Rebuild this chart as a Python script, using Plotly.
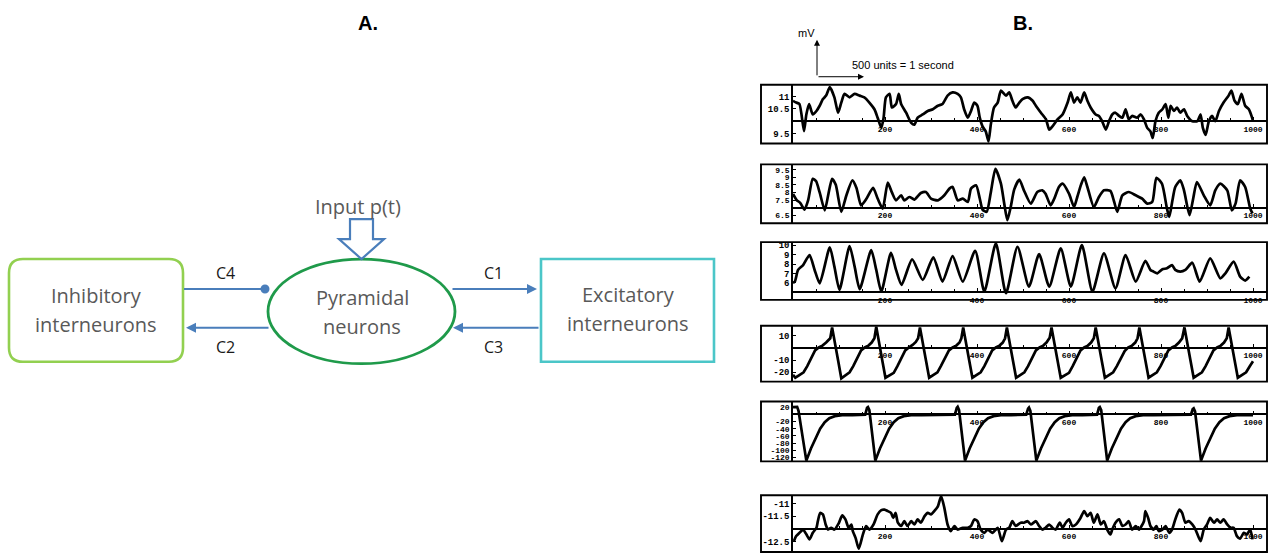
import plotly.graph_objects as go

W, H = 1269, 554

# ---------------- Panel B: simulated potentials (time in samples, mV) ----------------
t1 = [0, 7, 14, 24, 29, 35, 43, 51, 58, 65, 72, 80, 90, 98, 105, 112, 123, 134, 145, 155,
      166, 177, 184, 192, 197, 202, 210, 215, 224, 230, 235, 246, 257, 264, 271, 282, 293, 304, 315, 325,
      336, 347, 358, 365, 372, 380, 387, 394, 401, 406, 412, 419, 425, 430, 437, 445, 452, 463, 470, 477,
      484, 492, 499, 510, 521, 528, 539, 550, 557, 564, 575, 586, 597, 604, 611, 618, 625, 633, 640, 647,
      658, 665, 672, 680, 687, 694, 701, 709, 716, 723, 730, 737, 748, 756, 763, 770, 777, 782, 788, 795,
      803, 810, 816, 821, 828, 835, 842, 850, 857, 868, 879, 886, 891, 897, 904, 911, 918, 926, 936, 947,
      953, 960, 967, 975, 983, 991, 998, 1000]
v1 = [10.82, 10.75, 10.69, 9.6, 10.27, 10.69, 10.27, 10.41, 10.62, 10.89,
      11.03, 11.37, 10.96, 10.34, 10.75, 11.10, 10.96, 11.10, 11.03, 10.96,
      10.75, 10.48, 10.14, 9.73, 10.14, 10.96, 11.10, 10.55, 10.69, 11.10,
      10.69, 10.34, 9.93, 9.86, 10.14, 10.27, 10.41, 10.48, 10.62, 10.69,
      11.03, 11.16, 11.10, 10.96, 10.48, 10.14, 10.41, 10.75, 10.62, 10.14,
      9.79, 9.59, 9.18, 9.86, 10.55, 10.75, 11.23, 11.03, 11.16, 10.82,
      10.55, 10.75, 10.89, 10.96, 10.82, 10.62, 10.34, 10.07, 9.66, 9.79,
      10.07, 10.27, 10.75, 11.16, 10.75, 10.96, 10.75, 11.16, 10.82, 10.55,
      10.27, 10.21, 10.0, 9.66, 10.0, 10.27, 10.34, 10.21, 10.14, 10.48,
      10.07, 10.21, 10.14, 10.27, 10.07, 9.73, 9.59, 9.32, 10.0, 10.34,
      10.48, 10.69, 10.14, 10.62, 10.41, 10.55, 10.34, 10.48, 10.21, 10.0,
      10.0, 10.27, 9.73, 9.45, 10.0, 10.21, 10.0, 10.41, 10.75, 11.03,
      11.23, 10.82, 10.69, 11.10, 10.62, 10.48, 10.14, 10.0]

t2 = [0, 8, 16, 25, 33, 43, 50, 58, 69, 77, 85, 93, 105, 116, 129, 138, 148, 160, 174, 184,
      195, 206, 215, 224, 235, 242, 253, 264, 278, 289, 300, 315, 329, 340, 347, 358, 369, 380, 387, 398,
      406, 412, 421, 430, 440, 452, 459, 466, 473, 481, 492, 502, 517, 531, 542, 549, 560, 568, 578, 586,
      600, 611, 618, 626, 633, 640, 654, 665, 676, 690, 698, 705, 716, 730, 745, 759, 770, 781, 790, 802,
      813, 818, 825, 831, 842, 850, 862, 870, 878, 893, 907, 918, 929, 944, 954, 962, 972, 983, 994, 999]
v2 = [7.9, 7.5, 7.3, 6.87, 7.5, 8.9, 8.75, 8.0, 6.82, 7.9,
      8.9, 8.5, 6.72, 7.8, 8.8, 8.3, 7.15, 7.6, 8.3, 7.6,
      6.93, 8.65, 8.0, 7.48, 7.81, 7.48, 7.70, 7.53, 7.96, 8.03,
      7.59, 7.48, 7.81, 8.25, 8.36, 7.48, 7.59, 7.37, 8.25, 8.47,
      7.6, 6.87, 6.72, 8.0, 9.56, 8.58, 7.3, 6.17, 7.0, 8.2,
      8.85, 8.14, 7.26, 8.03, 8.14, 7.92, 7.15, 7.59, 8.36, 8.58,
      7.92, 7.04, 7.70, 8.5, 9.0, 8.36, 7.04, 7.70, 8.14, 8.1,
      7.4, 6.72, 7.81, 8.03, 7.81, 7.59, 7.26, 7.37, 8.97, 8.58,
      6.93, 6.39, 7.5, 8.36, 8.80, 8.14, 6.50, 7.6, 8.69, 7.81,
      7.15, 8.14, 8.58, 8.14, 6.82, 7.26, 8.80, 8.36, 6.93, 6.61]

t3 = [0, 4, 11, 22, 36, 47, 58, 80, 90, 101, 123, 134, 145, 170, 181, 192, 213, 224, 236, 259,
      282, 305, 325, 347, 369, 396, 416, 441, 463, 488, 513, 535, 557, 582, 604, 628, 651, 676, 701, 723,
      745, 766, 777, 784, 792, 803, 813, 824, 831, 842, 853, 868, 884, 907, 929, 940, 958, 972, 983, 992]
v3 = [6.02, 6.13, 7.37, 7.89, 8.95, 7.37, 5.95, 9.77, 7.72, 5.25,
      9.91, 7.72, 5.32, 9.48, 7.37, 5.07, 9.20, 7.37, 5.78, 8.49,
      6.31, 8.71, 6.13, 8.85, 6.13, 9.41, 5.07, 10.19, 4.89, 9.84,
      5.60, 9.06, 5.60, 9.66, 5.60, 10.01, 5.07, 9.13, 5.42, 8.95,
      6.13, 8.35, 7.37, 7.19, 7.01, 7.44, 7.54, 7.89, 7.37, 7.19,
      7.37, 8.14, 6.13, 8.60, 6.48, 7.01, 8.25, 6.66, 6.24, 6.66]

t4 = [0, 5, 13, 23, 31, 40, 48, 56, 64, 72, 81, 85, 92, 98, 105,
      113, 123, 131, 140, 148, 156, 164, 171, 177, 181, 188, 194, 201,
      209, 219, 227, 236, 244, 252, 260, 267, 272, 276, 283, 289, 296,
      304, 314, 322, 331, 339, 347, 355, 362, 366, 370, 377, 383, 390,
      398, 408, 416, 425, 433, 441, 449, 456, 461, 465, 472, 478, 485,
      493, 503, 511, 520, 528, 536, 544, 551, 558, 562, 569, 575, 582,
      590, 600, 608, 617, 625, 633, 641, 648, 654, 658, 665, 671, 678,
      686, 696, 704, 713, 721, 729, 737, 744, 749, 753, 760, 766, 773,
      781, 791, 799, 808, 816, 824, 832, 839, 846, 851, 858, 864, 871,
      879, 889, 897, 906, 914, 922, 930, 937, 943, 947, 954, 960, 967,
      975, 985, 993, 1000]
v4 = [-22, -24.5, -22.5, -20, -15, -8, -2, 0.5, 2, 4.5, 8, 17, 4, -10, -25,
      -22.5, -20, -15, -8, -2, 0.5, 2, 4.5, 8, 17.5, 4, -10, -24.5,
      -22.5, -20.5, -15, -8, -2, 0.5, 2.5, 5, 8, 17, 4, -10, -24.5,
      -22.5, -20, -14.5, -7.5, -2, 0.5, 2, 4.5, 8, 17, 4, -10, -24.5,
      -22.5, -20, -15, -8, -2, 0.5, 2, 4.5, 8, 17, 4, -10, -24.5,
      -22.5, -20, -15, -8, -2, 0.5, 2, 4.5, 8.5, 17, 4, -10, -24.5,
      -22.5, -20.5, -15, -8, -2, 0.5, 2, 4.5, 8, 17, 4, -10, -24.5,
      -22.5, -20, -15, -8, -2.5, 0.5, 2, 4.5, 8, 17, 4, -10, -24.5,
      -22.5, -20, -15, -8, -2, 0.5, 2, 4.5, 8, 17, 4, -10, -24.5,
      -22.5, -20, -15, -8, -2, 0.5, 2, 4.5, 8, 17, 4, -10, -24.5,
      -22.5, -20, -15, -11]

t5 = [0, 9, 12, 29, 39, 49, 59, 69, 79, 91, 107, 129, 155, 157, 161, 163, 166, 179, 189, 199,
      209, 219, 229, 241, 257, 279, 330, 352, 356, 358, 361, 374, 384, 394, 404, 414, 424, 436, 452, 474,
      500, 507, 511, 513, 516, 529, 539, 549, 559, 569, 579, 591, 607, 629, 655, 661, 665, 667, 670, 683,
      693, 703, 713, 723, 733, 745, 761, 783, 860, 865, 869, 871, 874, 887, 897, 907, 917, 927, 937, 949,
      965, 987, 1000]
v5 = [20, 21, 10, -129, -95, -66, -40, -22, -11, -5,
      -2.5, -2, -1.5, -1, 18, 20, 12, -129, -95, -66,
      -40, -22, -11, -5, -2.5, -2, -1.5, -1, 18, 21,
      12, -129, -95, -66, -40, -22, -11, -5, -2.5, -2,
      -1.5, -1, 16, 19, 10, -129, -95, -66, -40, -22,
      -11, -5, -2.5, -2, -1.5, -1, 18, 20, 12, -129,
      -95, -66, -40, -22, -11, -5, -2.5, -2, -1.5, -1,
      15, 17, 8, -129, -95, -66, -40, -22, -11, -5,
      -2.5, -2, -2]

t6 = [2, 7, 14, 22, 29, 36, 43, 51, 54, 59, 65, 71, 76, 83, 90, 100, 107, 114, 121, 127,
      130, 136, 143, 152, 159, 166, 175, 184, 192, 199, 206, 213, 218, 223, 228, 235, 242, 249, 257, 264,
      271, 278, 286, 293, 300, 307, 315, 322, 329, 336, 343, 351, 358, 369, 380, 387, 394, 401, 408, 416,
      423, 434, 445, 454, 463, 470, 477, 484, 495, 502, 510, 517, 528, 535, 542, 549, 557, 564, 571, 580,
      586, 593, 600, 607, 615, 625, 633, 640, 647, 654, 662, 669, 676, 683, 690, 694, 701, 709, 716, 723,
      730, 737, 745, 752, 763, 766, 772, 777, 784, 790, 795, 803, 810, 818, 824, 831, 840, 846, 853, 860,
      868, 875, 886, 893, 900, 907, 915, 922, 929, 936, 944, 951, 958, 965, 972, 980, 987, 994, 999]
v6 = [-12.49, -12.29, -12.16, -12.03, -12.22, -12.42, -12.16, -11.96, -11.70, -11.37,
      -11.43, -11.83, -12.03, -11.96, -12.03, -11.76, -11.47, -11.63, -11.96, -11.83,
      -12.09, -12.36, -12.79, -12.22, -11.89, -12.03, -11.83, -11.43, -11.26, -11.24,
      -11.30, -11.37, -11.57, -11.37, -11.76, -11.89, -11.70, -11.89, -11.70, -11.83,
      -11.63, -11.76, -11.50, -11.37, -11.43, -11.30, -11.11, -10.71, -11.17, -11.83,
      -12.09, -11.89, -12.03, -11.96, -11.96, -11.89, -11.63, -11.70, -12.03, -12.16,
      -12.03, -12.16, -11.96, -12.49, -12.03, -11.96, -11.70, -11.89, -11.76, -11.76,
      -11.70, -11.83, -11.70, -11.89, -12.03, -11.96, -11.83, -11.96, -12.03, -11.76,
      -11.96, -11.76, -11.63, -11.89, -11.83, -11.57, -11.30, -11.50, -11.37, -11.76,
      -11.43, -11.83, -11.70, -12.03, -12.22, -12.03, -11.76, -11.63, -11.89, -11.83,
      -11.70, -12.03, -11.89, -12.03, -11.70, -11.30, -11.57, -11.89, -12.03, -11.89,
      -12.09, -12.03, -11.89, -12.16, -12.03, -11.63, -11.24, -11.37, -11.76, -11.70,
      -11.83, -12.03, -12.49, -12.03, -11.83, -11.57, -11.76, -11.63, -11.76, -11.63,
      -11.83, -11.96, -11.96, -12.29, -12.39, -12.16, -12.22, -12.03, -12.42]

# tick values / labels
x_ticks = [200, 400, 600, 800, 1000]
x_tick_text = ["200", "400", "600", "800", "1000"]
y_ticks1, y_text1 = [9.5, 10.5, 11], ["9.5", "10.5", "11"]
y_ticks2, y_text2 = [6.5, 7.5, 8, 8.5, 9, 9.5], ["6.5", "7.5", "8", "8.5", "9", "9.5"]
y_ticks3, y_text3 = [6, 7, 8, 9, 10], ["6", "7", "8", "9", "10"]
y_ticks4, y_text4 = [-20, -10, 10], ["-20", "-10", "10"]
y_ticks5 = [-120, -100, -80, -60, -40, -20, 20]
y_text5 = ["-120", "-100", "-80", "-60", "-40", "-20", "20"]
y_ticks6, y_text6 = [-12.5, -11.5, -11], ["-12.5", "-11.5", "-11"]

# ---------------- geometry helpers (pixel -> paper) ----------------
def fx(px):
    return px / W


def fy(py):
    return 1 - py / H


FRAME_L, FRAME_R = 761, 1267
ORIGIN_X = 793            # pixel column of t = 0
PX_PER_SAMPLE = 0.46
X_HI = (FRAME_R - ORIGIN_X) / PX_PER_SAMPLE

panels = [
    dict(t=t1, v=v1, top=84, bot=143, yr=(9.1, 11.47), cross=10, yt=y_ticks1, yl=y_text1, shape="spline"),
    dict(t=t2, v=v2, top=164, bot=223, yr=(5.97, 9.85), cross=7, yt=y_ticks2, yl=y_text2, shape="spline"),
    dict(t=t3, v=v3, top=242, bot=300, yr=(4.18, 10.33), cross=5, yt=y_ticks3, yl=y_text3, shape="spline"),
    dict(t=t4, v=v4, top=326, bot=382, yr=(-27.7, 18.3), cross=0, yt=y_ticks4, yl=y_text4, shape="linear"),
    dict(t=t5, v=v5, top=402, bot=462, yr=(-131, 35.7), cross=0, yt=y_ticks5, yl=y_text5, shape="linear"),
    dict(t=t6, v=v6, top=496, bot=553, yr=(-12.92, -10.67), cross=-12, yt=y_ticks6, yl=y_text6, shape="spline"),
]

mono = dict(family="Liberation Mono, DejaVu Sans Mono, monospace", size=9, color="black", weight="bold")
mono_small = dict(mono, size=8)
minor_vals = [v for v in range(50, 1001, 50) if v not in x_ticks]

fig = go.Figure()
axes = {}
shapes = []

for i, p in enumerate(panels, start=1):
    xref = "x" if i == 1 else f"x{i}"
    yref = "y" if i == 1 else f"y{i}"
    xname = "xaxis" if i == 1 else f"xaxis{i}"
    yname = "yaxis" if i == 1 else f"yaxis{i}"
    lo, hi = p["yr"]
    d0, d1 = fy(p["bot"]), fy(p["top"])
    cross_pos = d0 + (p["cross"] - lo) / (hi - lo) * (d1 - d0)

    line = dict(color="black", width=2.7, shape=p["shape"])
    if p["shape"] == "spline":
        line["smoothing"] = 0.6
    fig.add_trace(go.Scatter(x=p["t"], y=p["v"], mode="lines", line=line,
                             xaxis=xref, yaxis=yref, showlegend=False, hoverinfo="skip"))

    axes[xname] = dict(domain=[fx(ORIGIN_X), fx(FRAME_R)], range=[0, X_HI], anchor="free",
                       position=cross_pos, showline=True, linecolor="black", linewidth=1.5,
                       ticks="inside", ticklen=3, tickwidth=1, tickcolor="black",
                       tickmode="array", tickvals=x_ticks, ticktext=x_tick_text, tickfont=mono_small,
                       minor=dict(tickvals=minor_vals, ticks="inside", ticklen=2, tickcolor="black"),
                       showgrid=False, zeroline=False, fixedrange=True)
    axes[yname] = dict(domain=[d0, d1], range=[lo, hi], anchor=xref, showline=True,
                       linecolor="black", linewidth=1.5, ticks="inside", ticklen=3,
                       tickcolor="black", tickmode="array", tickvals=p["yt"], ticktext=p["yl"],
                       tickfont=mono_small if len(p["yt"]) > 5 else mono,
                       showgrid=False, zeroline=False, fixedrange=True)
    shapes.append(dict(type="rect", xref="paper", yref="paper",
                       x0=fx(FRAME_L), x1=fx(FRAME_R), y0=d0, y1=d1,
                       line=dict(color="black", width=1.9)))

# ---------------- Panel A: neural mass model diagram ----------------
BLUE = "#4a7ebb"
GREY = "#595959"
TEXT_FONT = "Open Sans, Lato, sans-serif"


def rounded_rect(x0, y0, x1, y1, r):
    pts = [
        ("M", x0 + r, y0), ("L", x1 - r, y0), ("Q", x1, y0, x1, y0 + r),
        ("L", x1, y1 - r), ("Q", x1, y1, x1 - r, y1), ("L", x0 + r, y1),
        ("Q", x0, y1, x0, y1 - r), ("L", x0, y0 + r), ("Q", x0, y0, x0 + r, y0),
    ]
    out = []
    for cmd, *c in pts:
        coords = " ".join(f"{fx(c[k]):.5f},{fy(c[k + 1]):.5f}" for k in range(0, len(c), 2))
        out.append(f"{cmd} {coords}")
    return " ".join(out) + " Z"


def polygon(points):
    return "M " + " L ".join(f"{fx(a):.5f},{fy(b):.5f}" for a, b in points) + " Z"


shapes += [
    dict(type="path", xref="paper", yref="paper", path=rounded_rect(9, 259, 183, 362, 14),
         line=dict(color="#92d050", width=2.6)),
    dict(type="circle", xref="paper", yref="paper", x0=fx(268), x1=fx(455), y0=fy(364), y1=fy(259),
         line=dict(color="#1f9a4a", width=2.8)),
    dict(type="rect", xref="paper", yref="paper", x0=fx(541), x1=fx(714), y0=fy(362), y1=fy(259),
         line=dict(color="#4bc6c8", width=2.6)),
    dict(type="line", xref="paper", yref="paper", x0=fx(184), x1=fx(262), y0=fy(289), y1=fy(289),
         line=dict(color=BLUE, width=2)),
    dict(type="circle", xref="paper", yref="paper", x0=fx(260.5), x1=fx(269.5), y0=fy(293.5), y1=fy(284.5),
         fillcolor=BLUE, line=dict(color=BLUE, width=0)),
    dict(type="path", xref="paper", yref="paper",
         path=polygon([(350, 219), (373, 219), (373, 239), (384, 239), (361.5, 259), (339, 239), (350, 239)]),
         fillcolor="white", line=dict(color=BLUE, width=2.2)),
]


def arrow(x_tail, y_tail, x_head, y_head, color=BLUE, width=2, head=2, size=1.0):
    return dict(x=fx(x_head), y=fy(y_head), xref="paper", yref="paper",
                ax=x_tail - x_head, ay=y_tail - y_head, axref="pixel", ayref="pixel",
                showarrow=True, arrowhead=head, arrowsize=size, arrowwidth=width,
                arrowcolor=color, text="", standoff=0)


def label(x, y, text, size, color, family=TEXT_FONT, weight="normal", xanchor="center"):
    return dict(x=fx(x), y=fy(y), xref="paper", yref="paper", text=text, showarrow=False,
                xanchor=xanchor, yanchor="middle",
                font=dict(family=family, size=size, color=color, weight=weight))


annotations = [
    arrow(451, 289, 537, 289),          # C1
    arrow(270, 328, 186, 328),          # C2
    arrow(540, 328, 453, 328),          # C3
    label(96, 296, "Inhibitory", 20, GREY),
    label(96, 325, "interneurons", 20, GREY),
    label(362, 298, "Pyramidal", 20, GREY),
    label(362, 327, "neurons", 20, GREY),
    label(628, 295, "Excitatory", 20, GREY),
    label(628, 324, "interneurons", 20, GREY),
    label(358, 206, "Input p(t)", 20, GREY),
    label(225, 273, "C4", 16, "#1a1a1a"),
    label(225, 347, "C2", 16, "#1a1a1a"),
    label(493, 273, "C1", 16, "#1a1a1a"),
    label(493, 347, "C3", 16, "#1a1a1a"),
    label(368, 22, "A.", 20, "black", family="Liberation Sans, Arial, sans-serif", weight="bold"),
    label(1023, 22, "B.", 20, "black", family="Liberation Sans, Arial, sans-serif", weight="bold"),
    # scale marker of panel B
    label(806, 32, "mV", 11, "black", family="Liberation Sans, Arial, sans-serif"),
    arrow(817, 76, 817, 39, color="black", width=1, head=2, size=1.2),
    arrow(817, 76, 864, 76, color="black", width=1, head=2, size=1.2),
    label(850, 64, "500 units = 1 second", 11, "black",
          family="Liberation Sans, Arial, sans-serif", xanchor="left"),
]

fig.update_layout(width=W, height=H, margin=dict(l=0, r=0, t=0, b=0),
                  paper_bgcolor="white", plot_bgcolor="white", showlegend=False,
                  shapes=shapes, annotations=annotations, **axes)

fig.write_html("out.html")
